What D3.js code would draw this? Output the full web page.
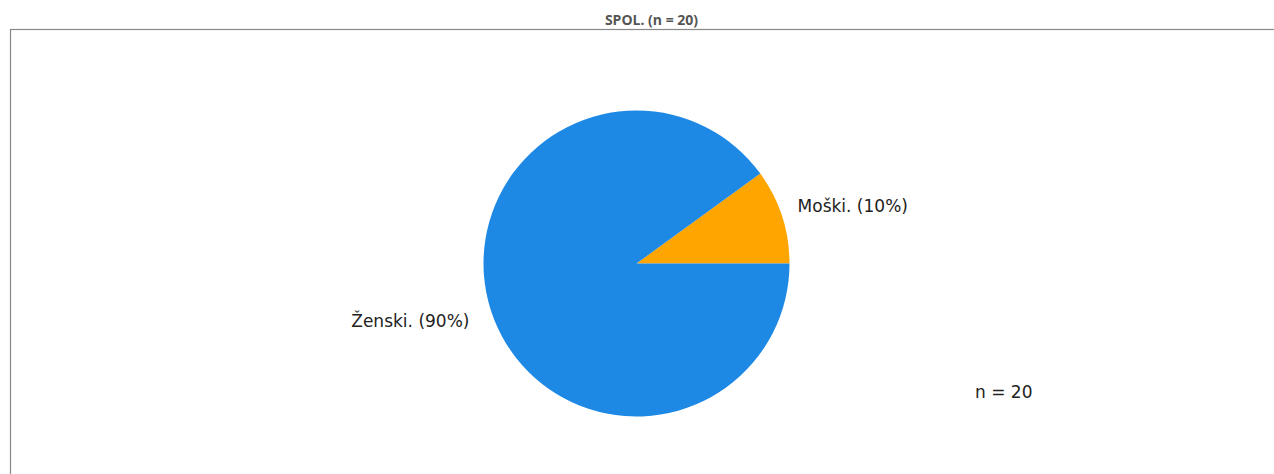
<!DOCTYPE html>
<html>
<head>
<meta charset="utf-8">
<script src="https://cdn.jsdelivr.net/npm/d3@7"></script>
<style>
  body { margin: 0; background: #fff; }
  svg { display: block; }
  .title { font-family: "Open Sans", "Noto Sans", sans-serif; font-weight: bold; font-size: 14px; fill: #555; }
  .label { font-family: "DejaVu Sans", sans-serif; font-size: 17px; fill: #222; }
</style>
</head>
<body>
<script>
// chart data
const categories = ["Moški.", "Ženski."];
const counts = [2, 18];
const colors = ["#FFA500", "#1E88E5"];
const total = 20;
const titleText = "SPOL. (n = 20)";

const width = 1274, height = 474;
const cx = 636.5, cy = 263.5, radius = 153;

const svg = d3.select("body").append("svg")
    .attr("width", width)
    .attr("height", height);

// frame around the plot area (runs off the right and bottom edge)
svg.append("rect")
    .attr("x", 10.5)
    .attr("y", 29.5)
    .attr("width", width)
    .attr("height", height)
    .attr("fill", "none")
    .attr("stroke", "#888")
    .attr("stroke-width", 1.2);

svg.append("text")
    .attr("class", "title")
    .attr("x", 651.5)
    .attr("y", 25)
    .attr("text-anchor", "middle")
    .text(titleText);

// pie starts at 3 o'clock and runs counter-clockwise
const pie = d3.pie()
    .value(d => d)
    .sort(null)
    .startAngle(Math.PI / 2)
    .endAngle(Math.PI / 2 - 2 * Math.PI);

const arcs = pie(counts);

const arc = d3.arc().innerRadius(0).outerRadius(radius);
const labelArc = d3.arc().innerRadius(radius * 1.1).outerRadius(radius * 1.1);

const g = svg.append("g")
    .attr("transform", "translate(" + cx + "," + cy + ")");

g.selectAll("path.slice")
    .data(arcs)
    .enter().append("path")
    .attr("class", "slice")
    .attr("d", arc)
    .attr("fill", (d, i) => colors[i]);

g.selectAll("text.label")
    .data(arcs)
    .enter().append("text")
    .attr("class", "label")
    .attr("x", d => {
        const x = labelArc.centroid(d)[0];
        return x + (x < 0 ? -7 : 1);
    })
    .attr("y", d => {
        const y = labelArc.centroid(d)[1];
        return y + (y < 0 ? -5.5 : 5.5);
    })
    .attr("dominant-baseline", "central")
    .attr("text-anchor", d => labelArc.centroid(d)[0] >= 0 ? "start" : "end")
    .text((d, i) => categories[i] + " (" + Math.round(d.value / total * 100) + "%)");

svg.append("text")
    .attr("class", "label")
    .attr("x", 975)
    .attr("y", 392)
    .attr("dominant-baseline", "central")
    .text("n = " + total);
</script>
</body>
</html>
